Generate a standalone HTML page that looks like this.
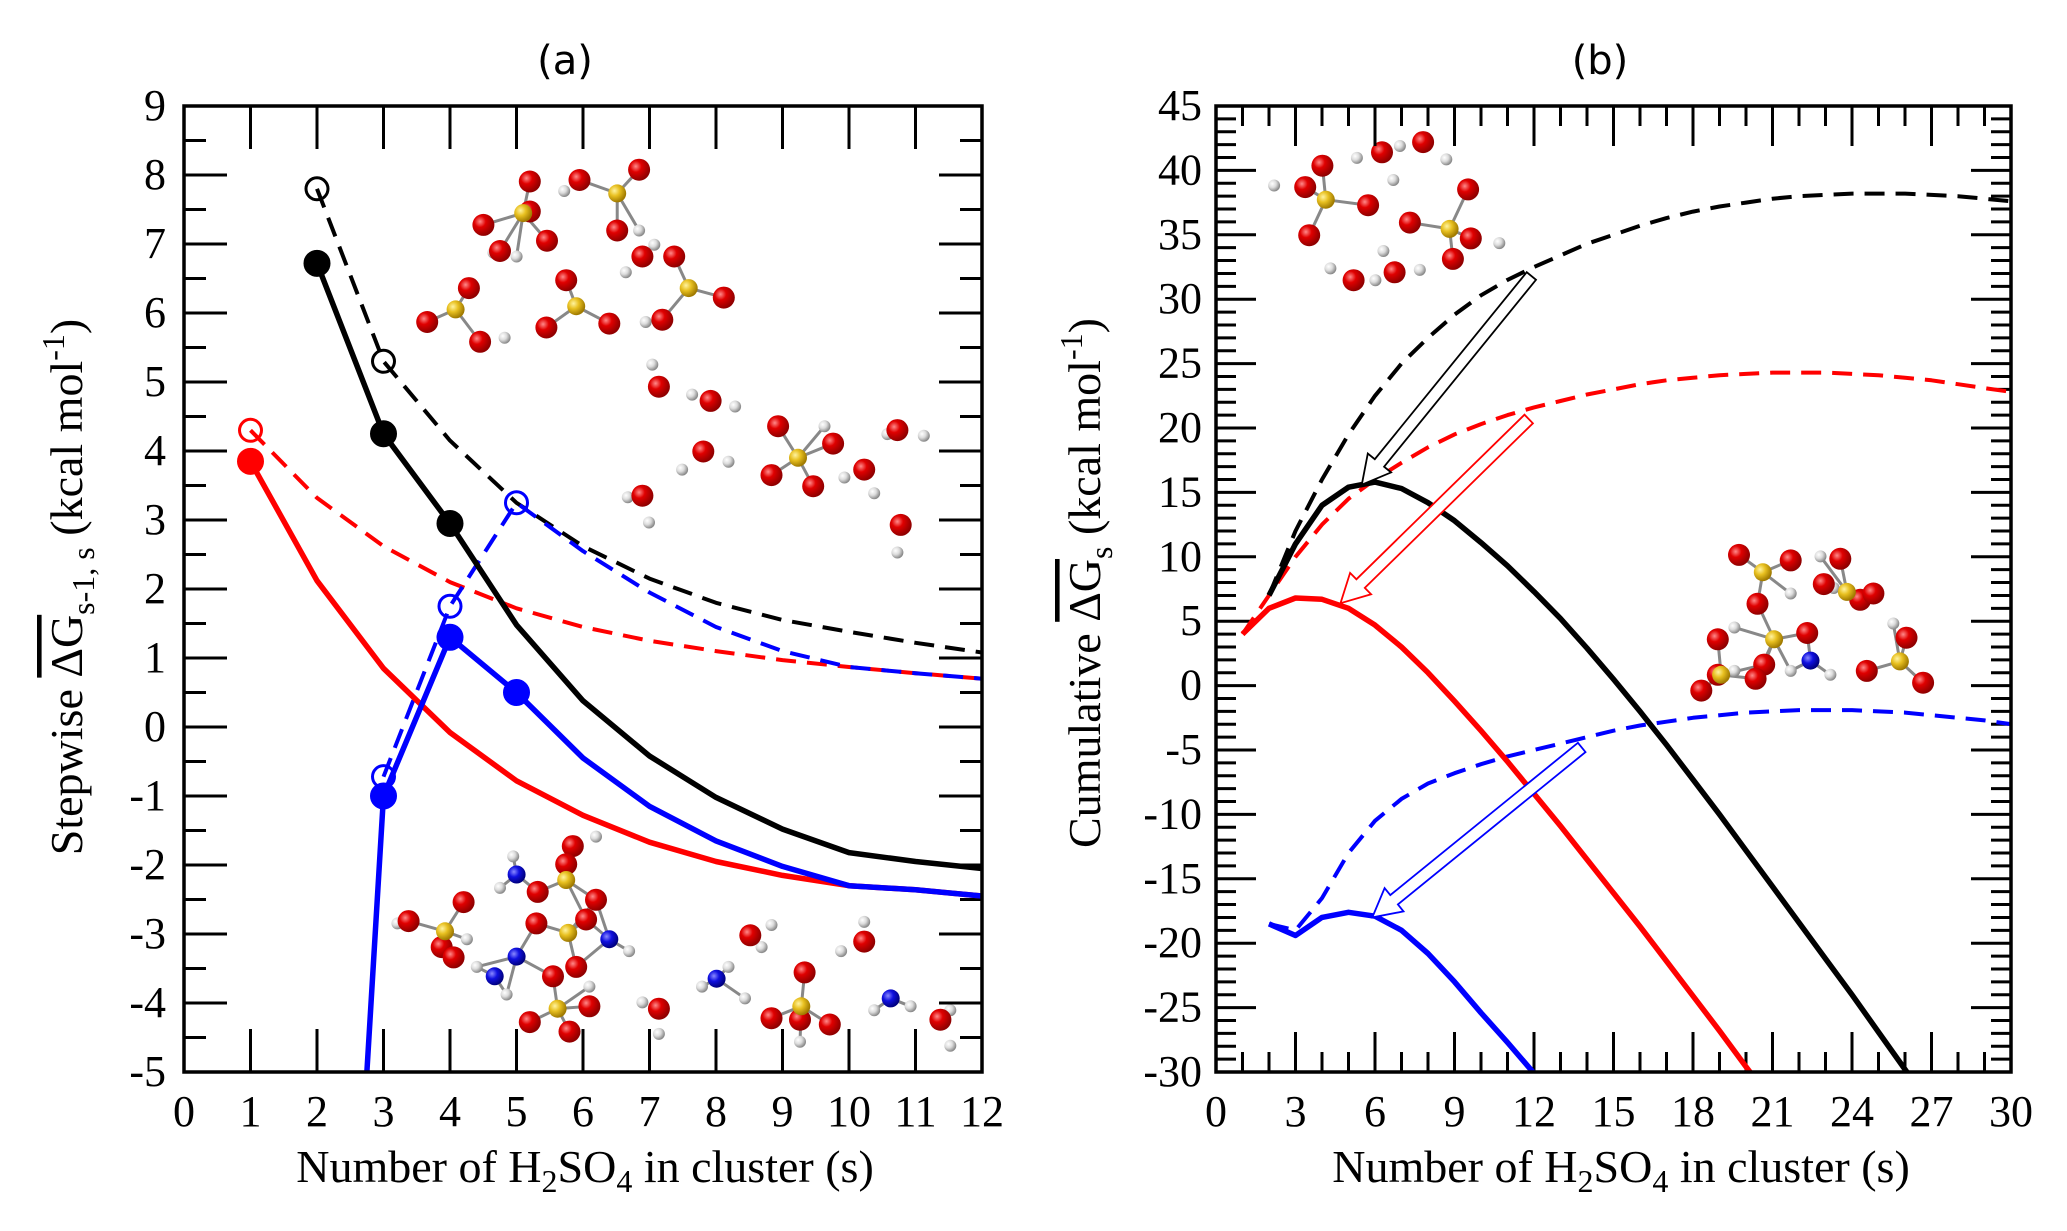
<!DOCTYPE html>
<html><head><meta charset="utf-8"><style>
html,body{margin:0;padding:0;background:#fff;width:2067px;height:1231px;overflow:hidden;}
svg{display:block;}
text{font-family:"Liberation Serif",serif;fill:#000;}
.ttl{font-family:"DejaVu Sans","Liberation Sans",sans-serif;font-size:40px;}
</style></head><body>
<svg id="fig" width="2067" height="1231" viewBox="0 0 2067 1231" xmlns="http://www.w3.org/2000/svg">
<defs>
<radialGradient id="gR" cx="35%" cy="35%" r="65%"><stop offset="0" stop-color="#ff8a8a"/><stop offset="0.4" stop-color="#e00000"/><stop offset="1" stop-color="#900000"/></radialGradient>
<radialGradient id="gY" cx="35%" cy="35%" r="65%"><stop offset="0" stop-color="#fff3a0"/><stop offset="0.45" stop-color="#e8c020"/><stop offset="1" stop-color="#a07a00"/></radialGradient>
<radialGradient id="gW" cx="35%" cy="35%" r="65%"><stop offset="0" stop-color="#ffffff"/><stop offset="0.5" stop-color="#dcdcdc"/><stop offset="1" stop-color="#8a8a8a"/></radialGradient>
<radialGradient id="gB" cx="35%" cy="35%" r="65%"><stop offset="0" stop-color="#8a8aff"/><stop offset="0.45" stop-color="#1010e0"/><stop offset="1" stop-color="#000080"/></radialGradient>
<clipPath id="clipA"><rect x="184" y="106" width="798" height="966"/></clipPath>
<clipPath id="clipB"><rect x="1216" y="106" width="795" height="966"/></clipPath>
</defs>
<g id="mols"></g>
<g id="panelA"></g>
<g id="panelB"></g>
</svg>
<script>
// ---------- Panel (a) data ----------
const sA = [1,2,3,4,5,6,7,8,9,10,11,12];
const blackSolidA = [null,6.72,4.25,2.95,1.48,0.38,-0.42,-1.02,-1.48,-1.82,-1.95,-2.05];
const blackDashA  = [null,7.8,5.3,4.15,3.25,2.62,2.15,1.8,1.55,1.38,1.22,1.08];
const redSolidA   = [3.85,2.12,0.85,-0.08,-0.78,-1.28,-1.67,-1.95,-2.15,-2.3,-2.36,-2.45];
const redDashA    = [4.3,3.32,2.62,2.1,1.72,1.45,1.25,1.1,0.97,0.87,0.78,0.7];
const blueSolidA  = [null,-17,-1.0,1.3,0.5,-0.45,-1.15,-1.65,-2.02,-2.3,-2.36,-2.45];
const blueDashA   = [null,null,-0.72,1.75,3.25,2.55,1.95,1.45,1.1,0.87,0.78,0.7];
const blackFilledIdx = [2,3,4], blackOpenIdx = [2,3];
const redFilledIdx = [1], redOpenIdx = [1];
const blueFilledIdx = [3,4,5], blueOpenIdx = [3,4,5];
const xTicksA = [0,1,2,3,4,5,6,7,8,9,10,11,12];
const yTicksA = [-5,-4,-3,-2,-1,0,1,2,3,4,5,6,7,8,9];

// ---------- Panel (b) data ----------
const sB = [1,2,3,4,5,6,7,8,9,10,11,12,13,14,15,16,17,18,19,20,21,22,23,24,25,26,27,28,29,30];
const blackDashB  = [null,7,12,16,19.5,22.5,25,27,28.8,30.3,31.5,32.5,33.4,34.3,35,35.7,36.3,36.8,37.2,37.5,37.8,38,38.1,38.2,38.2,38.2,38.1,38,37.8,37.6];
const blackSolidB = [null,7,11,14,15.4,15.8,15.3,14.2,12.8,11.1,9.3,7.3,5.2,2.9,0.5,-2.0,-4.6,-7.3,-10.0,-12.8,-15.6,-18.4,-21.2,-24,-26.9,-29.8,-32.7,null,null,null];
const redDashB    = [4,7,10,12.5,14.5,16,17.3,18.5,19.5,20.3,21,21.6,22.1,22.6,23,23.4,23.7,23.9,24.1,24.2,24.3,24.3,24.3,24.2,24.1,23.9,23.7,23.4,23.1,22.8];
const redSolidB   = [4,6,6.8,6.7,6,4.7,3,1,-1.2,-3.5,-5.9,-8.4,-10.9,-13.5,-16.1,-18.7,-21.4,-24.1,-26.8,-29.6,-32.3,null,null,null,null,null,null,null,null,null];
const blueDashB   = [null,-18.5,-19,-16.5,-13,-10.5,-8.8,-7.6,-6.8,-6.1,-5.5,-5,-4.5,-4,-3.5,-3.1,-2.8,-2.5,-2.3,-2.1,-2,-1.9,-1.9,-1.9,-2,-2.1,-2.3,-2.5,-2.7,-3];
const blueSolidB  = [null,-18.5,-19.4,-18,-17.6,-17.9,-19,-20.8,-23,-25.4,-27.7,-30.1,null,null,null,null,null,null,null,null,null,null,null,null,null,null,null,null,null,null];
const arrowTailB = [[11.9,31.8],[11.8,20.7],[13.8,-4.8]];
const arrowTipB  = [[5.5,15.6],[4.7,6.4],[5.9,-18.0]];
const arrowColors = ['#000','#f00','#00f'];
const xTicksB = [0,3,6,9,12,15,18,21,24,27,30];
const yTicksB = [-30,-25,-20,-15,-10,-5,0,5,10,15,20,25,30,35,40,45];

const NS='http://www.w3.org/2000/svg';
function mk(tag, attrs, parent){const e=document.createElementNS(NS,tag);for(const k in attrs)e.setAttribute(k,attrs[k]);parent.appendChild(e);return e;}

const yTop=106,yBot=1072;
function axA_x(v){return 184+(v-0)/12*(982-184);}
function axA_y(v){return yBot-(v+5)/14*(yBot-yTop);}
function axB_x(v){return 1216+v/30*(2011-1216);}
function axB_y(v){return yBot-(v+30)/75*(yBot-yTop);}

function poly(g, xs, ys, fx, fy, color, dashed, name, clip){
  const pts=[];
  for(let i=0;i<xs.length;i++){ if(ys[i]===null||ys[i]===undefined) continue; pts.push(fx(xs[i]).toFixed(1)+','+fy(ys[i]).toFixed(1)); }
  const p=mk('polyline',{points:pts.join(' '),fill:'none',stroke:color,'stroke-width':dashed?4:5.5,'stroke-linejoin':'round','clip-path':'url(#'+clip+')'},g);
  if(dashed) p.setAttribute('stroke-dasharray','20 11');
  
  
}
function markers(g, xs, ys, idx, fx, fy, color, open, name){
  idx.forEach(s=>{
    const i=xs.indexOf(s);
    const c=mk('circle',{cx:fx(xs[i]),cy:fy(ys[i]),r:open?11:13,fill:open?'none':color,stroke:color,'stroke-width':open?3:1},g);
    
    
  });
}
function frame(g,x0,x1,name){
  const r=mk('rect',{x:x0,y:yTop,width:x1-x0,height:yBot-yTop,fill:'none',stroke:'#000','stroke-width':3.5},g);
  
  
}
function tick(g,x1,y1,x2,y2){mk('line',{x1:x1,y1:y1,x2:x2,y2:y2,stroke:'#000','stroke-width':3},g);}
function label(g,x,y,txt,anchor,size,name){
  const t=mk('text',{x:x,y:y,'text-anchor':anchor,'font-size':size},g);
  t.textContent=txt;
  
  
  return t;
}

// ---------- Panel A ----------
const A=document.getElementById('panelA');
xTicksA.forEach(v=>{const x=axA_x(v);tick(A,x,yBot,x,yBot-43);tick(A,x,yTop,x,yTop+43);
  label(A,x,1126,String(v),'middle',44,'x-tick-label-a');});
for(let v=-5;v<=9;v+=0.5){const y=axA_y(v);const L=(Math.abs(v%1)<1e-9)?43:22;tick(A,184,y,184+L,y);tick(A,982,y,982-L,y);}
yTicksA.forEach(v=>{label(A,166,axA_y(v)+14,String(v),'end',44,'y-tick-label-a');});
poly(A,sA,redDashA,axA_x,axA_y,'#f00',true,'red-dashed-line-a','clipA');
poly(A,sA,blackDashA,axA_x,axA_y,'#000',true,'black-dashed-line-a','clipA');
poly(A,sA,blueDashA,axA_x,axA_y,'#00f',true,'blue-dashed-line-a','clipA');
poly(A,sA,redSolidA,axA_x,axA_y,'#f00',false,'red-solid-line-a','clipA');
poly(A,sA,blackSolidA,axA_x,axA_y,'#000',false,'black-solid-line-a','clipA');
poly(A,sA,blueSolidA,axA_x,axA_y,'#00f',false,'blue-solid-line-a','clipA');
markers(A,sA,blackSolidA,blackFilledIdx,axA_x,axA_y,'#000',false,'black-filled-marker');
markers(A,sA,blackDashA,blackOpenIdx,axA_x,axA_y,'#000',true,'black-open-marker');
markers(A,sA,redSolidA,redFilledIdx,axA_x,axA_y,'#f00',false,'red-filled-marker');
markers(A,sA,redDashA,redOpenIdx,axA_x,axA_y,'#f00',true,'red-open-marker');
markers(A,sA,blueSolidA,blueFilledIdx,axA_x,axA_y,'#00f',false,'blue-filled-marker');
markers(A,sA,blueDashA,blueOpenIdx,axA_x,axA_y,'#00f',true,'blue-open-marker');
frame(A,184,982,'plot-frame-a');

// ---------- Panel B ----------
const B=document.getElementById('panelB');
for(let v=0;v<=30;v++){const x=axB_x(v);const L=(v%3===0)?40:20;tick(B,x,yBot,x,yBot-L);tick(B,x,yTop,x,yTop+L);}
xTicksB.forEach(v=>label(B,axB_x(v),1126,String(v),'middle',44,'x-tick-label-b'));
for(let v=-30;v<=45;v++){const y=axB_y(v);const L=(v%5===0)?40:20;tick(B,1216,y,1216+L,y);tick(B,2011,y,2011-L,y);}
yTicksB.forEach(v=>label(B,1202,axB_y(v)+14,String(v),'end',44,'y-tick-label-b'));
poly(B,sB,blackDashB,axB_x,axB_y,'#000',true,'black-dashed-line-b','clipB');
poly(B,sB,redDashB,axB_x,axB_y,'#f00',true,'red-dashed-line-b','clipB');
poly(B,sB,blueDashB,axB_x,axB_y,'#00f',true,'blue-dashed-line-b','clipB');
poly(B,sB,blackSolidB,axB_x,axB_y,'#000',false,'black-solid-line-b','clipB');
poly(B,sB,redSolidB,axB_x,axB_y,'#f00',false,'red-solid-line-b','clipB');
poly(B,sB,blueSolidB,axB_x,axB_y,'#00f',false,'blue-solid-line-b','clipB');
for(let i=0;i<arrowTailB.length;i++){
  const x1=axB_x(arrowTailB[i][0]),y1=axB_y(arrowTailB[i][1]),x2=axB_x(arrowTipB[i][0]),y2=axB_y(arrowTipB[i][1]);
  const dx=x2-x1,dy=y2-y1,len=Math.hypot(dx,dy),ux=dx/len,uy=dy/len,nx=-uy,ny=ux;
  const w=6,hw=15,hl=28;
  const bx=x2-ux*hl,by=y2-uy*hl;
  const P=[[x1+nx*w,y1+ny*w],[bx+nx*w,by+ny*w],[bx+nx*hw,by+ny*hw],[x2,y2],[bx-nx*hw,by-ny*hw],[bx-nx*w,by-ny*w],[x1-nx*w,y1-ny*w]];
  const a=mk('polygon',{points:P.map(p=>p[0].toFixed(1)+','+p[1].toFixed(1)).join(' '),fill:'#fff',stroke:arrowColors[i],'stroke-width':1.8},B);
  
  
}
frame(B,1216,2011,'plot-frame-b');

// ---------- Titles ----------
const F=document.getElementById('fig');
let t=label(F,565,74,'(a)','middle',40,'panel-a-title'); t.setAttribute('class','ttl');
t=label(F,1600,74,'(b)','middle',40,'panel-b-title'); t.setAttribute('class','ttl');
function xtitle(cx,name){
  const t=mk('text',{x:cx,y:1182,'text-anchor':'middle','font-size':46},F);
  t.innerHTML='Number of H<tspan dy="10" font-size="32">2</tspan><tspan dy="-10">SO</tspan><tspan dy="10" font-size="32">4</tspan><tspan dy="-10"> in cluster (s)</tspan>';
  
  
}
xtitle(585,'x-axis-title-a'); xtitle(1621,'x-axis-title-b');
function ytitle(x,y,pre,sub,name){
  const t=mk('text',{transform:'translate('+x+','+y+') rotate(-90)','text-anchor':'middle','font-size':46},F);
  t.innerHTML=pre+' <tspan text-decoration="overline">ΔG</tspan><tspan dy="12" font-size="32">'+sub+'</tspan><tspan dy="-12"> (kcal mol</tspan><tspan dy="-18" font-size="32">-1</tspan><tspan dy="18">)</tspan>';
  
  
}
ytitle(82,587,'Stepwise','s-1, s','y-axis-title-a');
ytitle(1100,583,'Cumulative','s','y-axis-title-b');

// ---------- Decorative molecules (pixel positions from image, not data) ----------
const M=document.getElementById('mols');
function ax(z){return z/1.51;} function ay(z){return z/1.267;}
function bx(z){return 1039+z/1.51;}
const molA_red=[[730,285],[800,230],[800,268],[826,305],[755,318],[875,228],[965,215],[932,292],[970,325],[1018,325],[1093,377],[1000,405],[855,355],[825,415],[920,410],[645,408],[708,365],[725,433],
[995,490],[1073,508],[1062,572],[1175,540],[1258,562],[1165,602],[1228,616],[1305,595],[1355,545],[970,628],[1360,665],
[617,1167],[700,1143],[667,1200],[685,1213],[865,1072],[855,1095],[812,1130],[900,1140],[810,1170],[885,1165],[870,1225],[835,1237],[800,1295],[860,1307],[890,1275],[995,1278],[1133,1185],[1305,1193],[1215,1232],[1165,1290],[1208,1292],[1253,1298],[1420,1292]];
const molA_yel=[[790,270],[932,245],[688,392],[870,388],[1040,365],[1205,580],[672,1180],[855,1115],[858,1182],[842,1278],[1210,1275]];
const molA_wht=[[852,242],[965,292],[780,325],[745,320],[988,310],[945,345],[975,408],[762,428],[985,462],[1045,500],[1110,515],[1030,595],[1100,585],[1245,540],[1275,605],[1320,625],[1340,550],[1395,552],[948,630],[980,662],[1355,700],
[600,1170],[775,1085],[755,1125],[720,1225],[765,1260],[900,1060],[890,1250],[950,1205],[1060,1250],[1100,1225],[1125,1265],[1150,1200],[1165,1172],[1270,1205],[1305,1168],[1208,1320],[1320,1280],[1375,1275],[1435,1280],[1435,1325],[970,1270],[995,1310],[705,1190]];
const molA_blu=[[780,1108],[780,1212],[747,1237],[920,1190],[1082,1240],[1345,1265]];
const molB_red=[[428,210],[402,237],[497,260],[408,298],[518,193],[580,180],[648,240],[560,282],[652,302],[625,328],[475,355],[537,345],
[1057,703],[1135,710],[1085,765],[1160,802],[1185,740],[1210,708],[1240,760],[1260,752],[1025,810],[1095,842],[1082,860],[1025,855],[1000,875],[1250,850],[1310,808],[1335,865]];
const molB_yel=[[433,253],[620,290],[1093,725],[1220,750],[1110,810],[1030,855],[1300,838]];
const molB_wht=[[355,235],[480,200],[545,185],[615,202],[535,228],[695,308],[440,340],[520,318],[575,342],[508,355],[1050,850],[1135,752],[1180,705],[1200,745],[1050,795],[1135,850],[1195,855],[1290,790]];
const molB_blu=[[1165,837]];
const all=[];
molA_red.forEach(p=>all.push([ax(p[0]),ay(p[1]),'R']));molA_yel.forEach(p=>all.push([ax(p[0]),ay(p[1]),'Y']));
molA_wht.forEach(p=>all.push([ax(p[0]),ay(p[1]),'W']));molA_blu.forEach(p=>all.push([ax(p[0]),ay(p[1]),'B']));
molB_red.forEach(p=>all.push([bx(p[0]),ay(p[1]),'R']));molB_yel.forEach(p=>all.push([bx(p[0]),ay(p[1]),'Y']));
molB_wht.forEach(p=>all.push([bx(p[0]),ay(p[1]),'W']));molB_blu.forEach(p=>all.push([bx(p[0]),ay(p[1]),'B']));
all.filter(a=>a[2]==='Y'||a[2]==='B').forEach(c=>{
  all.forEach(o=>{ if(o===c) return; const d=Math.hypot(o[0]-c[0],o[1]-c[1]); if(d<45 && (o[2]==='R'||o[2]==='W')) mk('line',{x1:c[0],y1:c[1],x2:o[0],y2:o[1],stroke:'#888','stroke-width':3},M);});
});
const rad={R:11,Y:9,W:6,B:9}, grad={R:'url(#gR)',Y:'url(#gY)',W:'url(#gW)',B:'url(#gB)'};
['W','R','Y','B'].forEach(k=>all.filter(a=>a[2]===k).forEach(a=>{
  const c=mk('circle',{cx:a[0].toFixed(1),cy:a[1].toFixed(1),r:rad[k],fill:grad[k]},M);
  
  
}));
</script>
</body></html>
